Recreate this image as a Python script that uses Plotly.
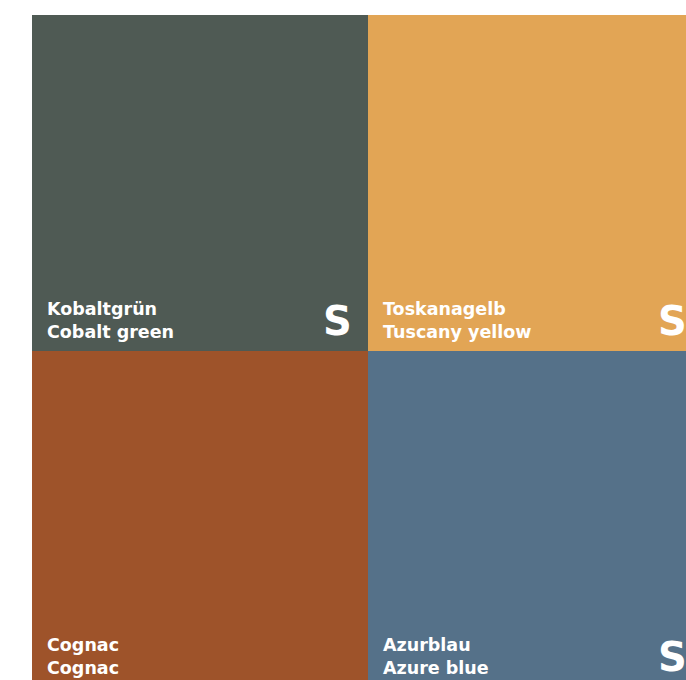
import plotly.graph_objects as go

# Swatch grid data (row-major: top-left, top-right, bottom-left, bottom-right)
names_de = ["Kobaltgrün", "Toskanagelb", "Cognac", "Azurblau"]
names_en = ["Cobalt green", "Tuscany yellow", "Cognac", "Azure blue"]
swatch_colors = ["#4F5A54", "#E2A555", "#9E532A", "#557189"]
col_idx = [0, 1, 0, 1]
row_idx = [0, 0, 1, 1]
show_badge = [True, True, False, True]
badge_text = "S"

W, H = 686, 680
left, top = 32, 15
cell = 335.5

z = [[0, 1], [2, 3]]
n = len(swatch_colors)
colorscale = []
for i, c in enumerate(swatch_colors):
    colorscale.append([i / n, c])
    colorscale.append([(i + 1) / n, c])

fig = go.Figure(go.Heatmap(
    z=z, x=[0.5, 1.5], y=[0.5, 1.5],
    zmin=0, zmax=n,
    colorscale=colorscale, showscale=False, hoverinfo="skip",
))

annotations = []
for i in range(n):
    cx, cy = col_idx[i], row_idx[i]
    annotations.append(dict(
        x=cx + 13 / cell, y=cy + 305.5 / cell, xref="x", yref="y",
        text=f"{names_de[i]}<br>{names_en[i]}", showarrow=False,
        xanchor="left", yanchor="middle", align="left",
        font=dict(family="DejaVu Sans", size=17.5, color="white", weight="bold"),
    ))
    if show_badge[i]:
        annotations.append(dict(
            x=cx + 305 / cell, y=cy + 306 / cell, xref="x", yref="y",
            text=badge_text, showarrow=False,
            xanchor="center", yanchor="middle",
            font=dict(family="DejaVu Sans", size=40, color="white", weight="bold"),
        ))

fig.update_layout(
    width=W, height=H,
    margin=dict(l=left, r=0, t=top, b=0, pad=0),
    paper_bgcolor="white", plot_bgcolor="white",
    xaxis=dict(range=[0, (W - left) / cell], visible=False, fixedrange=True),
    yaxis=dict(range=[(H - top) / cell, 0], visible=False, fixedrange=True),
    annotations=annotations,
    showlegend=False,
)

fig.write_html(
    "out.html",
    config={"displayModeBar": False, "staticPlot": True},
    post_script="document.body.style.margin='0';document.body.style.overflow='hidden';",
)
